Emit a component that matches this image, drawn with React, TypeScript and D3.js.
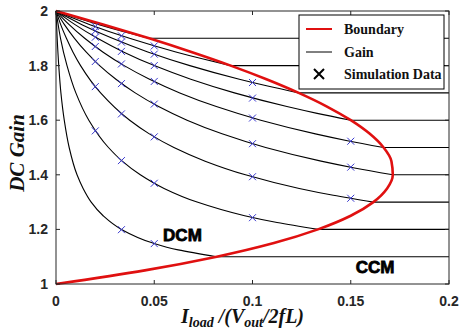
import { useEffect, useRef } from "react";
import * as d3 from "d3";

const xTicks = [0, 0.05, 0.1, 0.15, 0.2];
const yTicks = [1, 1.2, 1.4, 1.6, 1.8, 2];

// CCM gain of each curve (flat part right of the boundary)
const ccmLevels = [1.9, 1.8, 1.7, 1.6, 1.5, 1.4, 1.3, 1.2, 1.1];

// DCM part of each gain curve as [load, gain], from (0, 2) down to the boundary
const gain19 = [[0, 2], [0.0105, 1.975], [0.0219, 1.95], [0.0341, 1.925], [0.0474, 1.9]];
const gain18 = [[0, 2], [0.0083, 1.975], [0.0173, 1.95], [0.0374, 1.9], [0.061, 1.85], [0.0744, 1.825], [0.0889, 1.8]];
const gain17 = [[0, 2], [0.0064, 1.975], [0.0132, 1.95], [0.0287, 1.9], [0.0467, 1.85], [0.0681, 1.8], [0.0933, 1.75], [0.1077, 1.725], [0.1235, 1.7]];
const gain16 = [[0, 2], [0.0047, 1.975], [0.0097, 1.95], [0.0211, 1.9], [0.0343, 1.85], [0.05, 1.8], [0.0686, 1.75], [0.0908, 1.7], [0.1175, 1.65], [0.1329, 1.625], [0.15, 1.6]];
const gain15 = [[0, 2], [0.0032, 1.975], [0.0067, 1.95], [0.0146, 1.9], [0.0238, 1.85], [0.0347, 1.8], [0.0476, 1.75], [0.063, 1.7], [0.0816, 1.65], [0.1042, 1.6], [0.132, 1.55], [0.1483, 1.525], [0.1667, 1.5]];
const gain14 = [[0, 2], [0.0021, 1.975], [0.0043, 1.95], [0.0094, 1.9], [0.0153, 1.85], [0.0222, 1.8], [0.0305, 1.75], [0.0403, 1.7], [0.0522, 1.65], [0.0667, 1.6], [0.0845, 1.55], [0.1067, 1.5], [0.1349, 1.45], [0.1519, 1.425], [0.1714, 1.4]];
const gain13 = [[0, 2], [0.0012, 1.975], [0.0024, 1.95], [0.0053, 1.9], [0.0086, 1.85], [0.0125, 1.8], [0.0227, 1.7], [0.0375, 1.6], [0.0475, 1.55], [0.06, 1.5], [0.0759, 1.45], [0.0964, 1.4], [0.1238, 1.35], [0.1411, 1.325], [0.1615, 1.3]];
const gain12 = [[0, 2], [0.0011, 1.95], [0.0023, 1.9], [0.0056, 1.8], [0.0101, 1.7], [0.0167, 1.6], [0.0267, 1.5], [0.0337, 1.45], [0.0429, 1.4], [0.055, 1.35], [0.0718, 1.3], [0.096, 1.25], [0.1125, 1.225], [0.1333, 1.2]];
const gain11 = [[0, 2], [0.0006, 1.9], [0.0014, 1.8], [0.0025, 1.7], [0.0042, 1.6], [0.0067, 1.5], [0.0107, 1.4], [0.0138, 1.35], [0.0179, 1.3], [0.024, 1.25], [0.0333, 1.2], [0.0493, 1.15], [0.0622, 1.125], [0.0818, 1.1]];
const gainCurves = [gain19, gain18, gain17, gain16, gain15, gain14, gain13, gain12, gain11];

// DCM/CCM boundary as [load, gain]
const boundary = [
  [0, 2], [0.0244, 1.95], [0.0474, 1.9], [0.0689, 1.85], [0.0889, 1.8], [0.1071, 1.75],
  [0.1235, 1.7], [0.1379, 1.65], [0.15, 1.6], [0.1597, 1.55], [0.1667, 1.5], [0.1707, 1.45],
  [0.1714, 1.4], [0.1685, 1.35], [0.1615, 1.3], [0.15, 1.25], [0.1333, 1.2], [0.1109, 1.15],
  [0.0818, 1.1], [0.0452, 1.05], [0, 1],
];

// simulation points, one gain list per load value
const simLoads = [0.02, 0.0333, 0.05, 0.1, 0.15];
const simAt020 = [1.943, 1.927, 1.904, 1.87, 1.815, 1.723, 1.561];
const simAt033 = [1.909, 1.886, 1.852, 1.806, 1.734, 1.623, 1.452, 1.199];
const simAt050 = [1.872, 1.842, 1.8, 1.742, 1.659, 1.539, 1.369, 1.148];
const simAt100 = [1.738, 1.681, 1.608, 1.514, 1.393, 1.243];
const simAt150 = [1.523, 1.428, 1.314];
const simGains = [simAt020, simAt033, simAt050, simAt100, simAt150];

const W = 459;
const H = 336;

export default function App() {
  const svgRef = useRef<SVGSVGElement>(null);

  useEffect(() => {
    if (!svgRef.current) return;
    const svg = d3.select(svgRef.current);
    svg.selectAll("*").remove();

    const margin = { top: 11, right: 10, bottom: 52, left: 56 };
    const innerW = W - margin.left - margin.right;
    const innerH = H - margin.top - margin.bottom;
    const x = d3.scaleLinear().domain([0, 0.2]).range([0, innerW]);
    const y = d3.scaleLinear().domain([1, 2]).range([innerH, 0]);

    svg.append("rect").attr("width", W).attr("height", H).attr("fill", "#fff");
    const g = svg.append("g").attr("transform", `translate(${margin.left},${margin.top})`);

    const axisColor = "#262626";
    const tickFont = "'Liberation Sans', Arial, sans-serif";

    // gain curves: DCM part then flat CCM part
    const line = d3
      .line<number[]>()
      .x((d) => x(d[0]))
      .y((d) => y(d[1]))
      .curve(d3.curveMonotoneY);
    gainCurves.forEach((pts, i) => {
      g.append("path")
        .attr("d", line(pts))
        .attr("fill", "none")
        .attr("stroke", "#000")
        .attr("stroke-width", 1.1);
      const last = pts[pts.length - 1];
      g.append("line")
        .attr("x1", x(last[0]))
        .attr("x2", x(0.2))
        .attr("y1", y(ccmLevels[i]))
        .attr("y2", y(ccmLevels[i]))
        .attr("stroke", "#000")
        .attr("stroke-width", 1.1);
    });

    // boundary
    g.append("path")
      .attr("d", line(boundary))
      .attr("fill", "none")
      .attr("stroke", "#e01010")
      .attr("stroke-width", 2.6);

    // simulation markers
    const s = 3.5;
    simLoads.forEach((ld, i) => {
      simGains[i].forEach((gv) => {
        const cx = x(ld);
        const cy = y(gv);
        g.append("path")
          .attr("d", `M${cx - s},${cy - s}L${cx + s},${cy + s}M${cx - s},${cy + s}L${cx + s},${cy - s}`)
          .attr("stroke", "#3a3ad0")
          .attr("stroke-width", 1)
          .attr("fill", "none");
      });
    });

    // frame and inward ticks
    g.append("rect")
      .attr("width", innerW)
      .attr("height", innerH)
      .attr("fill", "none")
      .attr("stroke", axisColor)
      .attr("stroke-width", 1);
    xTicks.forEach((t) => {
      g.append("line").attr("x1", x(t)).attr("x2", x(t)).attr("y1", innerH).attr("y2", innerH - 4).attr("stroke", axisColor);
      g.append("line").attr("x1", x(t)).attr("x2", x(t)).attr("y1", 0).attr("y2", 4).attr("stroke", axisColor);
      g.append("text")
        .attr("x", x(t))
        .attr("y", innerH + 22)
        .attr("text-anchor", "middle")
        .style("font-family", tickFont)
        .style("font-weight", "bold")
        .style("font-size", "14px")
        .style("fill", axisColor)
        .text(String(t));
    });
    yTicks.forEach((t) => {
      g.append("line").attr("x1", 0).attr("x2", 4).attr("y1", y(t)).attr("y2", y(t)).attr("stroke", axisColor);
      g.append("line").attr("x1", innerW).attr("x2", innerW - 4).attr("y1", y(t)).attr("y2", y(t)).attr("stroke", axisColor);
      g.append("text")
        .attr("x", -8)
        .attr("y", y(t))
        .attr("dy", "0.36em")
        .attr("text-anchor", "end")
        .style("font-family", tickFont)
        .style("font-weight", "bold")
        .style("font-size", "14px")
        .style("fill", axisColor)
        .text(String(t));
    });

    // region labels
    const region = (label: string, lx: number, ly: number) =>
      g.append("text")
        .attr("x", x(lx))
        .attr("y", y(ly))
        .style("font-family", tickFont)
        .style("font-weight", "900")
        .style("font-size", "17px")
        .style("fill", "#000")
        .style("stroke", "#000")
        .style("stroke-width", 0.8)
        .text(label);
    region("DCM", 0.0545, 1.158);
    region("CCM", 0.1525, 1.04);

    // axis titles
    const serif = "'Liberation Serif', 'Times New Roman', serif";
    const xt = svg
      .append("text")
      .attr("x", margin.left + innerW / 2 - 10)
      .attr("y", 323)
      .attr("text-anchor", "middle")
      .style("font-family", serif)
      .style("font-weight", "bold")
      .style("font-style", "italic")
      .style("font-size", "20px")
      .style("fill", "#111");
    xt.append("tspan").text("I");
    xt.append("tspan").attr("dy", 4).style("font-size", "14px").text("load");
    xt.append("tspan").attr("dy", -4).text(" /(V");
    xt.append("tspan").attr("dy", 4).style("font-size", "14px").text("out");
    xt.append("tspan").attr("dy", -4).text("/2fL)");

    svg
      .append("text")
      .attr("transform", `translate(24,153) rotate(-90)`)
      .attr("text-anchor", "middle")
      .style("font-family", serif)
      .style("font-weight", "bold")
      .style("font-style", "italic")
      .style("font-size", "21px")
      .style("fill", "#111")
      .text("DC Gain");

    // legend
    const leg = svg.append("g").attr("transform", "translate(299,15)");
    leg.append("rect").attr("width", 145).attr("height", 74).attr("fill", "#fff").attr("stroke", "#000").attr("stroke-width", 1);
    const legFont = (t: d3.Selection<SVGTextElement, unknown, null, undefined>) =>
      t.style("font-family", serif).style("font-weight", "bold").style("font-size", "14px").style("fill", "#111");
    leg.append("line").attr("x1", 7).attr("x2", 33).attr("y1", 14).attr("y2", 14).attr("stroke", "#e01010").attr("stroke-width", 2);
    legFont(leg.append("text").attr("x", 45).attr("y", 19).text("Boundary"));
    leg.append("line").attr("x1", 7).attr("x2", 33).attr("y1", 37).attr("y2", 37).attr("stroke", "#000").attr("stroke-width", 1);
    legFont(leg.append("text").attr("x", 45).attr("y", 42).text("Gain"));
    leg.append("path").attr("d", "M15,54L25,64M15,64L25,54").attr("stroke", "#000").attr("stroke-width", 2);
    legFont(leg.append("text").attr("x", 45).attr("y", 64).text("Simulation Data"));

    return () => {
      svg.selectAll("*").remove();
    };
  }, []);

  return (
    <svg
      ref={svgRef}
      width={W}
      height={H}
      style={{ position: "absolute", left: 0, top: 0 }}
    />
  );
}
